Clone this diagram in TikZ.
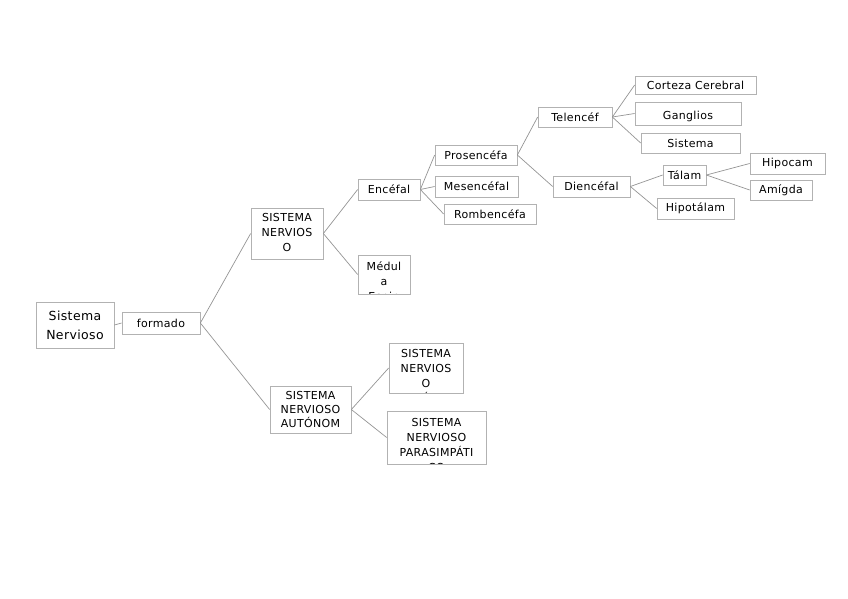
\documentclass[tikz,border=0pt]{standalone}
\usepackage{fontspec}
\setmainfont{DejaVu Sans}[LetterSpace=3]
\begin{document}
\begin{tikzpicture}[x=1pt,y=-1pt,
  cbox/.style={draw=black!30,line width=0.7pt,fill=white,inner sep=0pt,align=center,font=\fontsize{11}{15}\selectfont},
  sz/.style 2 args={minimum width=#1pt,minimum height=#2pt},
  cut/.style 2 args={path picture={\node[anchor=north,inner sep=0pt,align=center,font=\fontsize{11}{15}\selectfont] at ([yshift=#1]path picture bounding box.north) {#2};}},
  link/.style={draw=black!42,line width=0.7pt}]
\useasboundingbox (0,0) rectangle (848,599);
\node[cbox,sz={78}{46},font=\fontsize{12.5}{19}\selectfont] (root) at (75,325) {Sistema\\Nervioso};
\node[cbox,sz={78}{22}] (formado) at (161,323) {formado};
\node[cbox,sz={72}{51},cut={1pt}{SISTEMA\\NERVIOS\\O}] (snc) at (287,233.5) {};
\node[cbox,sz={81}{47},font=\fontsize{11}{14}\selectfont] (sna) at (310.5,409.5) {SISTEMA\\NERVIOSO\\AUTÓNOM};
\node[cbox,sz={62}{21}] (encef) at (389,189.5) {Encéfal};
\node[cbox,sz={52}{39},cut={-6pt}{Médul\\a\\Espin}] (medula) at (384,274.5) {};
\node[cbox,sz={82}{20}] (prosen) at (476,155) {Prosencéfa};
\node[cbox,sz={83}{21}] (mesen) at (476.5,186.5) {Mesencéfal};
\node[cbox,sz={92}{20}] (romben) at (490,214) {Rombencéfa};
\node[cbox,sz={74}{20}] (telen) at (575,117) {Telencéf};
\node[cbox,sz={77}{21}] (dien) at (591.5,186.5) {Diencéfal};
\node[cbox,sz={121}{18}] (corteza) at (695.5,85) {Corteza Cerebral};
\node[cbox,sz={106}{23},cut={-3pt}{Ganglios}] (ganglios) at (688,113.5) {};
\node[cbox,sz={99}{20}] (sistema) at (690.5,143) {Sistema};
\node[cbox,sz={43}{20}] (talamo) at (684.5,175) {Tálam};
\node[cbox,sz={75}{21}] (hipocampo) at (787.5,163.5) {Hipocam};
\node[cbox,sz={62}{20}] (amigdala) at (781,190) {Amígda};
\node[cbox,sz={77}{21}] (hipotal) at (695.5,208.5) {Hipotálam};
\node[cbox,sz={74}{50},cut={-6pt}{SISTEMA\\NERVIOS\\O\\SIMPÁTICO}] (simp) at (426,368) {};
\node[cbox,sz={99}{53},cut={-7pt}{SISTEMA\\NERVIOSO\\PARASIMPÁTI\\CO}] (parasimp) at (436.5,437.5) {};
% conexiones
\foreach \a/\b in {root/formado,formado/snc,formado/sna,snc/encef,snc/medula,
  encef/prosen,encef/mesen,encef/romben,prosen/telen,prosen/dien,
  telen/corteza,telen/ganglios,telen/sistema,dien/talamo,dien/hipotal,
  talamo/hipocampo,talamo/amigdala,sna/simp,sna/parasimp}
  \draw[link] (\a.east) -- (\b.west);
\end{tikzpicture}
\end{document}
